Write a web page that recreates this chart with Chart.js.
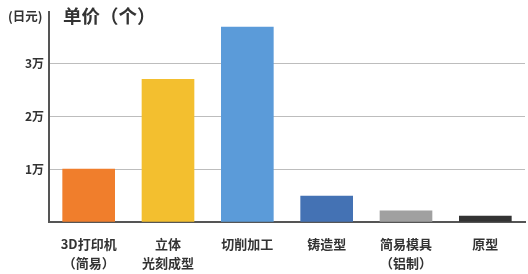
<!DOCTYPE html>
<html>
<head>
<meta charset="utf-8">
<script src="https://cdn.jsdelivr.net/npm/chart.js@4"></script>
<style>
  body { margin: 0; background: #fff; font-family: "Noto Sans CJK SC", sans-serif; }
  #wrap { position: relative; width: 528px; height: 274px; }
  .lbl { position: absolute; font-weight: bold; color: #333; white-space: nowrap; line-height: 1; }
</style>
</head>
<body>
<div id="wrap">
  <canvas id="price" width="528" height="274"></canvas>
  <span class="lbl" style="left:8px;top:10px;font-size:12.5px;">(日元)</span>
  <span class="lbl" style="left:63px;top:6px;font-size:18.5px;">单价（个）</span>
</div>
<script>
// categories and values (yen per piece)
const categories = [
    ['3D打印机', '（简易）'],
    ['立体', '光刻成型'],
    '切削加工',
    '铸造型',
    ['简易模具', '（铝制）'],
    '原型'
];
const prices = [10000, 27000, 36900, 4900, 2100, 1100];
const barColors = ['#F07E2C', '#F3BF2F', '#5B9BD9', '#4472B4', '#A0A0A0', '#333333'];
const tickValues = [0, 10000, 20000, 30000];
const tickLabels = {10000: '1万', 20000: '2万', 30000: '3万'};

const ctx = document.getElementById('price');
const priceChart = new Chart(ctx, {
    type: 'bar',
    data: {
        labels: categories,
        datasets: [{
            data: prices,
            backgroundColor: barColors,
            borderWidth: 0,
            barThickness: 52
        }]
    },
    options: {
        responsive: false,
        animation: false,
        layout: { padding: { top: 0, right: 3, left: 0, bottom: 0 } },
        plugins: { legend: { display: false }, tooltip: { enabled: false } },
        scales: {
            y: {
                min: 0,
                max: 39700,
                afterBuildTicks: (scale) => { scale.ticks = tickValues.map((v) => ({value: v})); },
                ticks: {
                    padding: 5,
                    color: '#333',
                    font: { family: 'Noto Sans CJK SC', size: 12, weight: 'bold' },
                    callback: (v) => tickLabels[v] || ''
                },
                grid: {
                    drawTicks: false,
                    color: (c) => (c.tick && tickLabels[c.tick.value]) ? '#BDBDBD' : 'rgba(0,0,0,0)',
                    lineWidth: 1
                },
                border: { color: '#555', width: 2 },
                afterFit: (scale) => { scale.width = 49; }
            },
            x: {
                ticks: {
                    padding: 12,
                    color: '#333',
                    maxRotation: 0,
                    autoSkip: false,
                    font: { family: 'Noto Sans CJK SC', size: 13, weight: 'bold', lineHeight: 1.5 }
                },
                grid: { display: false, drawTicks: false },
                border: { color: '#555', width: 2 },
                afterFit: (scale) => { scale.height = 52; }
            }
        }
    }
});
</script>
</body>
</html>
